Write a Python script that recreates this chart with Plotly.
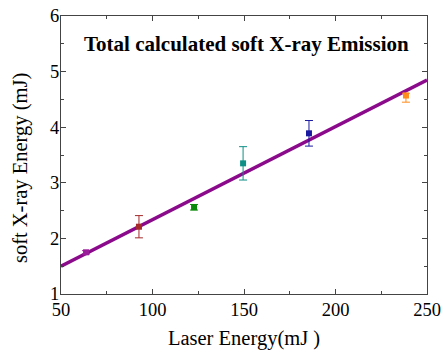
import plotly.graph_objects as go

laser_energy = [63.7, 92.6, 122.7, 149.5, 185.5, 238.5]
xray_energy = [1.75, 2.21, 2.56, 3.35, 3.89, 4.57]
err_plus = [0.03, 0.2, 0.05, 0.3, 0.23, 0.04]
err_minus = [0.03, 0.2, 0.05, 0.3, 0.23, 0.12]
point_colors = ["#9b1d9b", "#a52a2a", "#0a8a0a", "#0f8f86", "#1a1aa0", "#ff8c1a"]

fit_x = [50, 250]
fit_y = [1.5, 4.85]

fig = go.Figure()
fig.add_trace(go.Scatter(x=fit_x, y=fit_y, mode="lines",
                         line=dict(color="#8b0a8b", width=3.5), showlegend=False))
for xv, yv, ep, em, c in zip(laser_energy, xray_energy, err_plus, err_minus, point_colors):
    fig.add_trace(go.Scatter(
        x=[xv], y=[yv], mode="markers",
        marker=dict(symbol="square", size=6, color=c),
        error_y=dict(type="data", array=[ep], arrayminus=[em], color=c,
                     thickness=1, width=4, symmetric=False),
        showlegend=False))

fig.add_annotation(text="<b>Total calculated soft X-ray Emission</b>",
                   x=0.508, y=0.9, xref="paper", yref="paper", showarrow=False,
                   xanchor="center", yanchor="middle",
                   font=dict(family="Liberation Serif", size=21, color="black"))
# y-axis title
fig.add_annotation(text="soft X-ray Energy (mJ)", textangle=-90,
                   x=-0.112, y=0.453, xref="paper", yref="paper", showarrow=False,
                   xanchor="center", yanchor="middle",
                   font=dict(family="Liberation Serif", size=20.5, color="black"))

axis_common = dict(showgrid=False, zeroline=False, showline=True, linecolor="#444",
                   linewidth=1.2, mirror="ticks", ticks="inside", ticklen=5,
                   tickcolor="#444", automargin=False, ticklabeloverflow="allow",
                   tickfont=dict(family="Liberation Serif", size=18.5, color="black"))
fig.update_xaxes(range=[50, 250], dtick=50, tick0=50, ticklabelstandoff=-1,
                 minor=dict(ticks="inside", ticklen=3, dtick=25, tickcolor="#444"),
                 title=dict(text="Laser Energy(mJ )", standoff=11,
                            font=dict(family="Liberation Serif", size=20.5, color="black")),
                 **axis_common)
fig.update_yaxes(range=[1, 6], dtick=1, tick0=1, ticklabelstandoff=-3,
                 minor=dict(ticks="inside", ticklen=3, dtick=0.5, tickcolor="#444"),
                 **axis_common)
fig.update_layout(width=444, height=358, margin=dict(l=61, r=17, t=16, b=64),
                  plot_bgcolor="white", paper_bgcolor="white")
fig.write_html("out.html", config={"displayModeBar": False},
               post_script="document.body.style.margin='0';document.body.style.overflow='hidden';")
